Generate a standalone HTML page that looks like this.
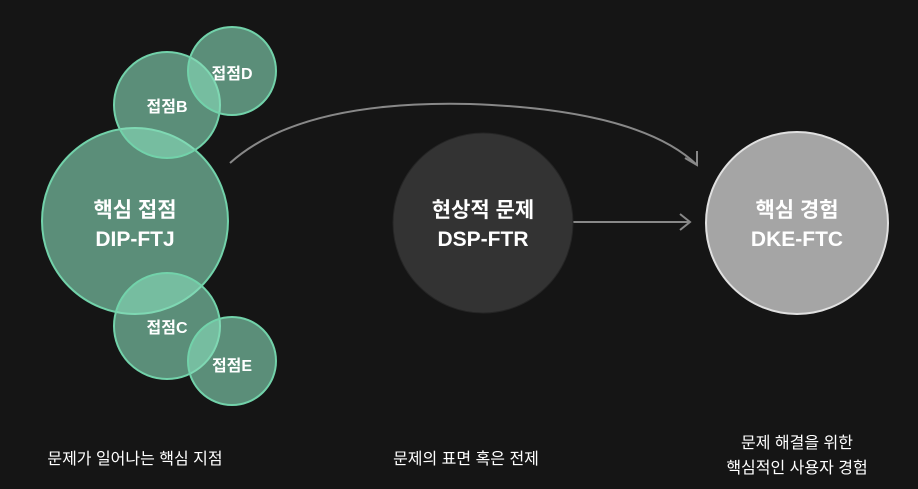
<!DOCTYPE html>
<html><head><meta charset="utf-8"><style>
body{margin:0;background:#151515;}
svg{display:block;font-family:"Liberation Sans","Noto Sans CJK KR",sans-serif;}
</style></head><body>
<svg width="918" height="489" viewBox="0 0 918 489">
<rect width="918" height="489" fill="#151515"/>
<g fill="rgba(135,219,184,0.61)" stroke="#72d2aa" stroke-width="2">
<circle cx="135" cy="221" r="93"/>
<circle cx="167" cy="105" r="53"/>
<circle cx="232" cy="71" r="44"/>
<circle cx="167" cy="326" r="53"/>
<circle cx="232" cy="361" r="44"/>
</g>
<path d="M230 163 Q 300 100 470 104 Q 640 110 697 165" fill="none" stroke="#888" stroke-width="2"/>
<path d="M685 158 L697 165 L697 151" fill="none" stroke="#888" stroke-width="2"/>
<line x1="570" y1="222" x2="690" y2="222" stroke="#888" stroke-width="2"/>
<path d="M680 214 L690 222 L680 230" fill="none" stroke="#888" stroke-width="2"/>
<circle cx="483" cy="223" r="90" fill="#333" stroke="#252525" stroke-width="1"/>
<circle cx="797" cy="223" r="91" fill="#a5a5a5" stroke="#e0e0e0" stroke-width="2"/>
<g fill="#fff" font-weight="bold" text-anchor="middle">
<text x="135" y="217" font-size="21">핵심 접점</text>
<text x="135" y="246" font-size="21">DIP-FTJ</text>
<text x="167" y="112" font-size="16">접점B</text>
<text x="232" y="79" font-size="16">접점D</text>
<text x="167" y="333" font-size="16">접점C</text>
<text x="232" y="371" font-size="16">접점E</text>
<text x="483" y="217" font-size="21">현상적 문제</text>
<text x="483" y="246" font-size="21">DSP-FTR</text>
<text x="797" y="217" font-size="21">핵심 경험</text>
<text x="797" y="246" font-size="21">DKE-FTC</text>
</g>
<g fill="#fff" font-size="16" text-anchor="middle">
<text x="135" y="464">문제가 일어나는 핵심 지점</text>
<text x="466" y="464">문제의 표면 혹은 전제</text>
<text x="797" y="448">문제 해결을 위한</text>
<text x="797" y="473">핵심적인 사용자 경험</text>
</g>
</svg>
</body></html>
